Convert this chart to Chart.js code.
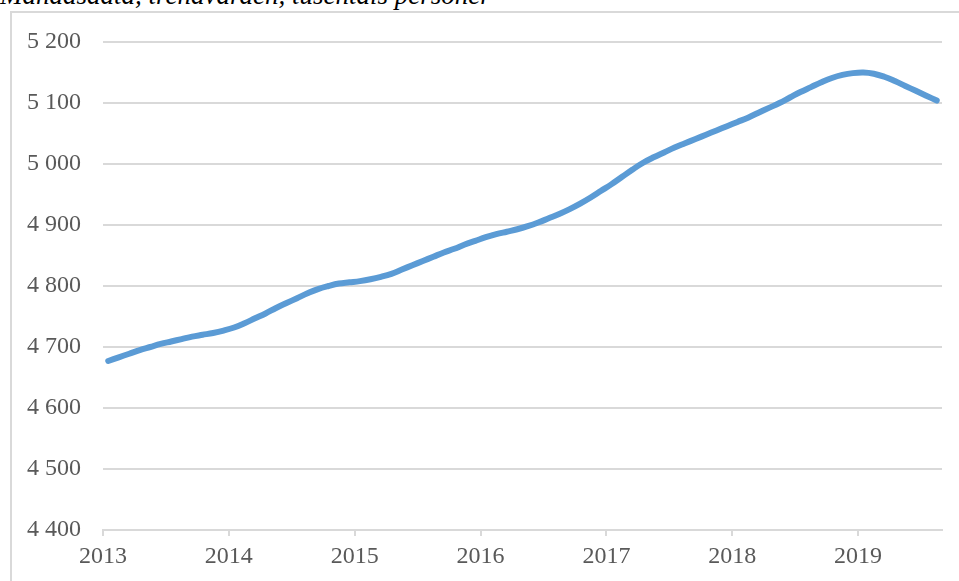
<!DOCTYPE html>
<html>
<head>
<meta charset="utf-8">
<script src="https://cdn.jsdelivr.net/npm/chart.js@4.4.0/dist/chart.umd.min.js"></script>
<style>
  html, body { margin: 0; padding: 0; background: #fff; overflow: hidden; }
  #wrap { position: relative; width: 959px; height: 581px; }
  #frame {
    position: absolute; left: 10px; top: 11px; width: 960px; height: 580px;
    border-left: 2px solid #d9d9d9; border-top: 2px solid #d9d9d9;
  }
  #title {
    position: absolute; left: 0px; top: -20px; white-space: nowrap;
    font-family: "Liberation Serif", "Times New Roman", serif; font-style: italic;
    font-size: 27px; color: #000;
  }
  canvas { position: absolute; left: 0; top: 0; }
</style>
</head>
<body>
<div id="wrap">
  <div id="frame"></div>
  <div id="title">Månadsdata, trendvärden, tusentals personer</div>
  <canvas id="trendChart" width="959" height="581"></canvas>
</div>
<script>
// Monthly trend values, Jan 2013 - Aug 2019 (thousands of persons)
const startYear = 2013;
const trendValues = [
  4677, 4683, 4689, 4695, 4700, 4705, 4709, 4713, 4717, 4720, 4723, 4727, // 2013
  4732, 4739, 4747, 4755, 4764, 4772, 4780, 4788, 4795, 4800, 4804, 4806, // 2014
  4808, 4811, 4815, 4820, 4827, 4834, 4841, 4848, 4855, 4861, 4868, 4874, // 2015
  4880, 4885, 4889, 4893, 4898, 4904, 4911, 4918, 4926, 4935, 4945, 4956, // 2016
  4967, 4979, 4991, 5002, 5011, 5019, 5027, 5034, 5041, 5048, 5055, 5062, // 2017
  5069, 5076, 5084, 5092, 5100, 5109, 5118, 5126, 5134, 5141, 5146, 5149, // 2018
  5150, 5148, 5143, 5136, 5128, 5120, 5112, 5104                          // 2019
];
const yearTicks = [2013, 2014, 2015, 2016, 2017, 2018, 2019];

// each month sits in the middle of its slot on the axis
const points = trendValues.map((v, i) => ({ x: i + 0.5, y: v }));

function formatThousands(v) {
  return String(v).replace(/\B(?=(\d{3})+(?!\d))/g, " ");
}

const tickFont = { family: "'Liberation Serif', 'Times New Roman', serif", size: 24 };
const gridColor = "#d9d9d9";

const ctx = document.getElementById("trendChart").getContext("2d");
new Chart(ctx, {
  type: "line",
  data: {
    datasets: [
      {
        data: points,
        borderColor: "#5b9bd5",
        borderWidth: 6,
        borderCapStyle: "round",
        borderJoinStyle: "round",
        pointRadius: 0,
        fill: false,
        tension: 0.4,
      },
    ],
  },
  options: {
    responsive: false,
    animation: false,
    layout: { padding: { left: 0, top: 42, right: 17, bottom: 0 } },
    plugins: { legend: { display: false }, tooltip: { enabled: false } },
    scales: {
      x: {
        type: "linear",
        min: 0,
        max: 80,
        afterBuildTicks: (scale) => {
          scale.ticks = yearTicks.map((y) => ({ value: (y - startYear) * 12 }));
        },
        afterFit: (scale) => { scale.height = 51; },
        ticks: {
          font: tickFont,
          color: "#595959",
          padding: 6,
          maxRotation: 0,
          autoSkip: false,
          callback: (v) => String(startYear + v / 12),
        },
        grid: {
          drawOnChartArea: false,
          drawTicks: true,
          tickLength: 6,
          color: gridColor,
          lineWidth: 2,
        },
        border: { display: true, color: gridColor, width: 2 },
      },
      y: {
        min: 4400,
        max: 5200,
        afterFit: (scale) => { scale.width = 103; },
        ticks: {
          stepSize: 100,
          font: tickFont,
          color: "#595959",
          padding: 22,
          callback: (v) => formatThousands(v),
        },
        grid: { color: gridColor, lineWidth: 2, drawTicks: false },
        border: { display: false },
      },
    },
  },
});
</script>
</body>
</html>
